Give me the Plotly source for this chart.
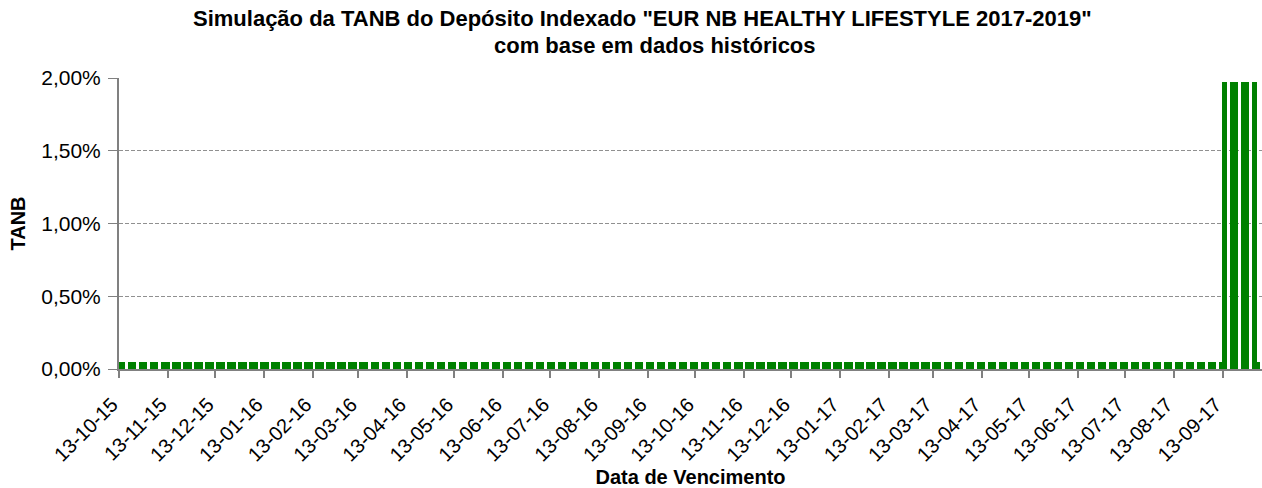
import pandas as pd
import plotly.graph_objects as go

# Data: TANB by maturity date (business days), read as runs of constant level
start_date = "2015-10-13"
end_date = "2017-10-06"
tanb_levels = [0.0005, 0.0197, 0.0005]
level_until = ["2017-09-12", "2017-10-04", "2017-10-06"]

tick_dates = pd.date_range("2015-10-01", "2017-09-13", freq="MS") + pd.Timedelta(days=12)
y_ticks = [0, 0.005, 0.01, 0.015, 0.02]
y_tick_text = ["0,00%", "0,50%", "1,00%", "1,50%", "2,00%"]
title_lines = ["Simulação da TANB do Depósito Indexado \"EUR NB HEALTHY LIFESTYLE 2017-2019\"",
               "com base em dados históricos"]

dates = pd.bdate_range(start_date, end_date)
values = []
for d in dates:
    for lvl, until in zip(tanb_levels, level_until):
        if d <= pd.Timestamp(until):
            values.append(lvl)
            break

font = "Liberation Sans, Arial, sans-serif"
fig = go.Figure(go.Bar(
    x=dates + pd.Timedelta(hours=12),
    y=values,
    width=86400000,
    marker=dict(color="#008000", line=dict(width=0)),
))
fig.update_layout(
    width=1262, height=488,
    margin=dict(l=119, r=0, t=78, b=119, autoexpand=False),
    paper_bgcolor="white", plot_bgcolor="white",
    font=dict(family=font, color="black", size=20),
    bargap=0,
    showlegend=False,
    annotations=[
        dict(text="<b>" + title_lines[0] + "</b>", xref="paper", yref="paper",
             x=0.4576, y=1.206, xanchor="center", yanchor="middle",
             showarrow=False, font=dict(size=22, family=font)),
        dict(text="<b>" + title_lines[1] + "</b>", xref="paper", yref="paper",
             x=0.469, y=1.110, xanchor="center", yanchor="middle",
             showarrow=False, font=dict(size=22, family=font)),
    ],
)
fig.update_xaxes(
    type="date",
    range=["2015-10-12 22:00", "2017-10-08"],
    tickvals=tick_dates,
    ticktext=[d.strftime("%d-%m-%y") for d in tick_dates],
    tickangle=-45,
    tickfont=dict(size=20),
    ticklabelshift=-7, ticklabelstandoff=7,
    ticks="outside", ticklen=7, tickcolor="#808080", tickwidth=2,
    showline=True, linecolor="#808080", linewidth=2,
    showgrid=False, zeroline=False, automargin=False,
    title=dict(text="<b>Data de Vencimento</b>", font=dict(size=20), standoff=9),
)
fig.update_yaxes(
    range=[0, 0.02],
    tickvals=y_ticks, ticktext=y_tick_text,
    tickfont=dict(size=21),
    ticks="outside", ticklen=9, tickcolor="#808080", tickwidth=1,
    ticklabelstandoff=3,
    showline=True, linecolor="#808080", linewidth=2,
    showgrid=True, gridcolor="#909090", griddash="4px,2px", gridwidth=1,
    zeroline=False, automargin=False,
    title=dict(text="<b>TANB</b>", font=dict(size=20), standoff=10),
)
fig.write_html("out.html", config={"displayModeBar": False},
               post_script="document.body.style.margin='0';")
